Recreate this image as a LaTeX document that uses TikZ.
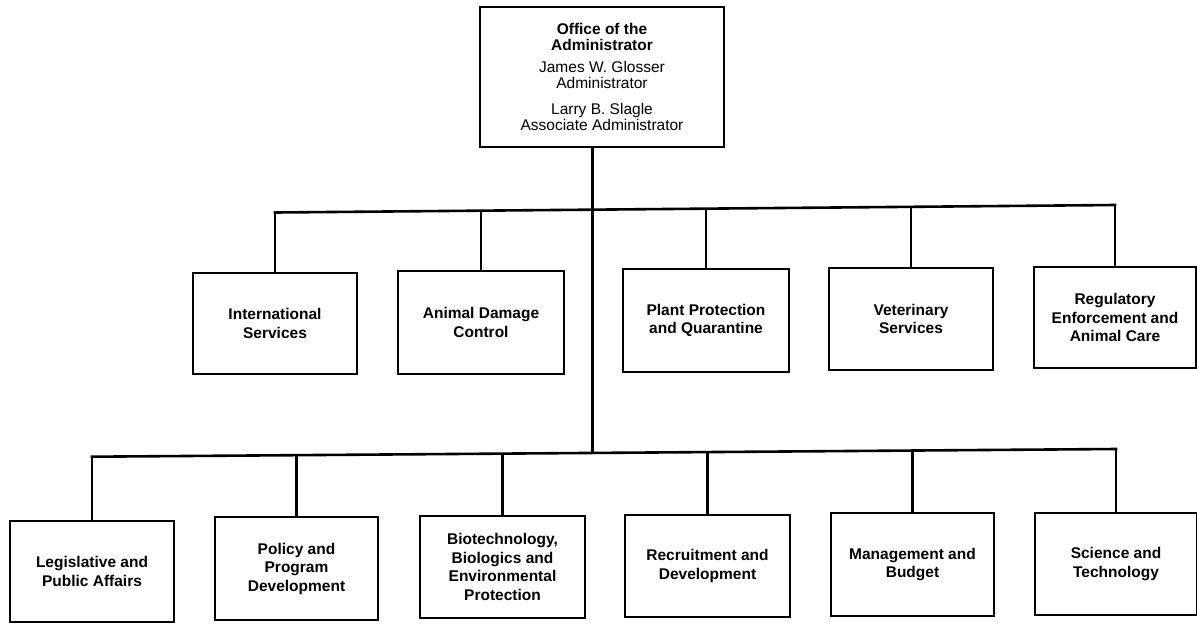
\documentclass[tikz,border=0pt]{standalone}
\usepackage{fontspec}
\newfontfamily\orgfont{Liberation Sans}
\begin{document}
\begin{tikzpicture}[x=1pt,y=-1pt,
  line width=2.6pt,
  unit/.style={draw, rectangle, inner sep=2pt, align=center,
    font=\orgfont\bfseries\fontsize{15.5}{18.5}\selectfont},
  headbox/.style={draw, rectangle, inner sep=2pt, align=center,
    font=\orgfont\fontsize{15.5}{16.5}\selectfont},
  link/.style={draw, line width=2.6pt}]
\useasboundingbox (0,0) rectangle (1197,625);

% head
\node[headbox, minimum width=244, minimum height=140] (top) at (602,77)
  {\textbf{Office of the}\\\textbf{Administrator}\\[5pt]
   James W. Glosser\\Administrator\\[9pt]
   Larry B. Slagle\\Associate Administrator};

% first row
\node[unit, minimum width=164, minimum height=101] (intl) at (275,323.5) {International\\Services};
\node[unit, minimum width=166, minimum height=103] (adc)  at (481,322.5) {Animal Damage\\Control};
\node[unit, minimum width=166, minimum height=103] (ppq)  at (706,320.5) {Plant Protection\\and Quarantine};
\node[unit, minimum width=164, minimum height=102] (vet)  at (911,319) {Veterinary\\Services};
\node[unit, minimum width=162, minimum height=101] (reac) at (1115,317.5) {Regulatory\\Enforcement and\\Animal Care};

% second row
\node[unit, minimum width=164, minimum height=101] (lpa)  at (92,571.5) {Legislative and\\Public Affairs};
\node[unit, minimum width=163, minimum height=103] (ppd)  at (296.5,568.5) {Policy and\\Program\\Development};
\node[unit, minimum width=165, minimum height=102] (bbep) at (502.5,567) {Biotechnology,\\Biologics and\\Environmental\\Protection};
\node[unit, minimum width=165, minimum height=102] (rd)   at (707.5,566) {Recruitment and\\Development};
\node[unit, minimum width=163, minimum height=103] (mb)   at (912.5,564.5) {Management and\\Budget};
\node[unit, minimum width=162, minimum height=102] (st)   at (1116,564) {Science and\\Technology};

% upper bus points
\coordinate (t1) at (275,212.5);
\coordinate (t2) at (481,210.7);
\coordinate (tc) at (592.5,209.7);
\coordinate (t3) at (706,208.7);
\coordinate (t4) at (911,206.9);
\coordinate (t5) at (1115,205.0);

% lower bus points
\coordinate (b1) at (92,456.7);
\coordinate (b2) at (296.5,455.2);
\coordinate (b3) at (502.5,453.6);
\coordinate (bc) at (592.5,452.9);
\coordinate (b4) at (707.5,452.1);
\coordinate (b5) at (912.5,450.5);
\coordinate (b6) at (1116,449.0);

% stem
\draw[link] (top.south -| bc) -- (bc);

% buses
\draw[link, line cap=rect] (t1) -- (t5);
\draw[link, line cap=rect] (b1) -- (b6);

% drops
\draw[link] (t1) -- (intl.north);
\draw[link] (t2) -- (adc.north);
\draw[link] (t3) -- (ppq.north);
\draw[link] (t4) -- (vet.north);
\draw[link] (t5) -- (reac.north);

\draw[link] (b1) -- (lpa.north);
\draw[link] (b2) -- (ppd.north);
\draw[link] (b3) -- (bbep.north);
\draw[link] (b4) -- (rd.north);
\draw[link] (b5) -- (mb.north);
\draw[link] (b6) -- (st.north);
\end{tikzpicture}
\end{document}
